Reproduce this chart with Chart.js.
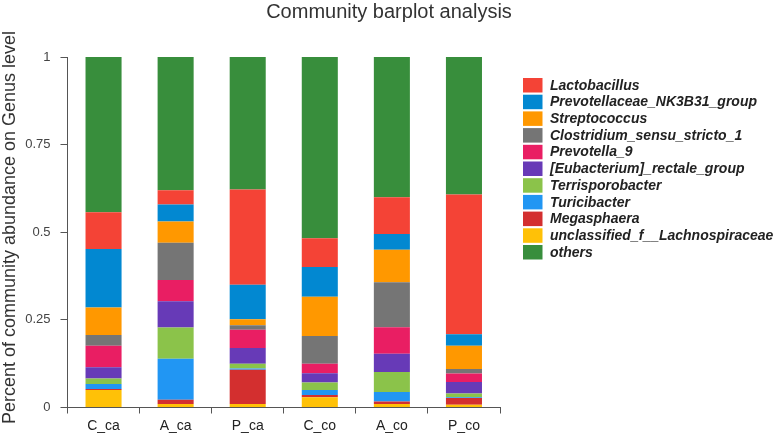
<!DOCTYPE html>
<html>
<head>
<meta charset="utf-8">
<script src="https://cdn.jsdelivr.net/npm/chart.js@4"></script>
<style>
html,body{margin:0;padding:0;background:#fff;}
#wrap{width:778px;height:437px;position:relative;}
</style>
</head>
<body>
<div id="wrap"><canvas id="c" width="778" height="437"></canvas></div>
<script>
// ---- data ----
const categories = ["C_ca", "A_ca", "P_ca", "C_co", "A_co", "P_co"];
const yTicks = [0, 0.25, 0.5, 0.75, 1];
const yTickLabels = ["0", "0.25", "0.5", "0.75", "1"];

const unclassified_f__Lachnospiraceae = [0.050, 0.010, 0.010, 0.029, 0.010, 0.008];
const Megasphaera                    = [0.003, 0.012, 0.098, 0.007, 0.007, 0.019];
const Turicibacter                   = [0.014, 0.117, 0.003, 0.014, 0.027, 0.002];
const Terrisporobacter               = [0.016, 0.089, 0.014, 0.021, 0.057, 0.011];
const Eubacterium_rectale_group      = [0.032, 0.075, 0.045, 0.027, 0.052, 0.033];
const Prevotella_9                   = [0.061, 0.061, 0.052, 0.027, 0.076, 0.024];
const Clostridium_sensu_stricto_1    = [0.031, 0.106, 0.013, 0.079, 0.128, 0.013];
const Streptococcus                  = [0.078, 0.061, 0.017, 0.112, 0.093, 0.066];
const Prevotellaceae_NK3B31_group    = [0.167, 0.048, 0.098, 0.085, 0.045, 0.033];
const Lactobacillus                  = [0.105, 0.041, 0.272, 0.082, 0.105, 0.399];
const others                         = [0.443, 0.380, 0.378, 0.517, 0.400, 0.392];

// stacking order (bottom to top)
const seriesNames = [
  "unclassified_f__Lachnospiraceae", "Megasphaera", "Turicibacter", "Terrisporobacter",
  "[Eubacterium]_rectale_group", "Prevotella_9", "Clostridium_sensu_stricto_1",
  "Streptococcus", "Prevotellaceae_NK3B31_group", "Lactobacillus", "others"
];
const seriesValues = [
  unclassified_f__Lachnospiraceae, Megasphaera, Turicibacter, Terrisporobacter,
  Eubacterium_rectale_group, Prevotella_9, Clostridium_sensu_stricto_1,
  Streptococcus, Prevotellaceae_NK3B31_group, Lactobacillus, others
];
const seriesColors = [
  "#FFC107", "#D32F2F", "#2196F3", "#8BC34A", "#673AB7", "#E91E63",
  "#757575", "#FF9800", "#0288D1", "#F44336", "#388E3C"
];
// legend order (top to bottom)
const legendOrder = [
  "Lactobacillus", "Prevotellaceae_NK3B31_group", "Streptococcus",
  "Clostridium_sensu_stricto_1", "Prevotella_9", "[Eubacterium]_rectale_group",
  "Terrisporobacter", "Turicibacter", "Megasphaera",
  "unclassified_f__Lachnospiraceae", "others"
];
const titleText = "Community barplot analysis";
const yTitleText = "Percent of community abundance on Genus level";

const datasets = seriesNames.map((n, i) => ({
  label: n,
  data: seriesValues[i],
  backgroundColor: seriesColors[i],
  borderWidth: 0,
  barPercentage: 0.5,
  categoryPercentage: 1.0
}));

const overlay = {
  id: "overlay",
  afterDraw(chart) {
    const ctx = chart.ctx;
    ctx.save();
    // title
    ctx.fillStyle = "#333";
    ctx.font = "20px 'Liberation Sans', Arial, sans-serif";
    ctx.textAlign = "center";
    ctx.textBaseline = "alphabetic";
    ctx.fillText(titleText, 389, 18);
    // y axis title
    ctx.save();
    ctx.translate(10, 227.5);
    ctx.rotate(-Math.PI / 2);
    ctx.font = "18px 'Liberation Sans', Arial, sans-serif";
    ctx.textBaseline = "middle";
    ctx.fillText(yTitleText, 0, 0);
    ctx.restore();
    // legend
    const x0 = 523, y0 = 78, pitch = 16.7, bw = 19.5, bh = 14.5;
    ctx.textAlign = "left";
    ctx.textBaseline = "middle";
    ctx.font = "italic bold 14px 'Liberation Sans', Arial, sans-serif";
    legendOrder.forEach((name, k) => {
      const ds = chart.data.datasets.find(d => d.label === name);
      const y = y0 + k * pitch;
      ctx.fillStyle = ds.backgroundColor;
      ctx.fillRect(x0, y, bw, bh);
      ctx.fillStyle = "#222";
      ctx.fillText(name, 550, y + bh / 2 + 0.5);
    });
    ctx.restore();
  }
};

new Chart(document.getElementById("c"), {
  type: "bar",
  data: { labels: categories, datasets },
  plugins: [overlay],
  options: {
    responsive: false,
    animation: false,
    layout: { padding: { left: 0, right: 278, top: 57, bottom: 0 } },
    plugins: { legend: { display: false }, title: { display: false }, tooltip: { enabled: false } },
    scales: {
      x: {
        stacked: true,
        afterFit(s) { s.height = 29.5; },
        grid: { drawOnChartArea: false, drawTicks: true, tickLength: 6, color: "#555", offset: true },
        border: { display: true, color: "#555", width: 1 },
        ticks: { color: "#222", padding: 4, font: { family: "'Liberation Sans', Arial, sans-serif", size: 14 } }
      },
      y: {
        stacked: true,
        min: 0, max: 1,
        afterFit(s) { s.width = 67.5; },
        afterBuildTicks(s) { s.ticks = yTicks.map(v => ({ value: v })); },
        grid: { drawOnChartArea: false, drawTicks: true, tickLength: 7, color: "#555" },
        border: { display: true, color: "#555", width: 1 },
        ticks: {
          color: "#444", padding: 10,
          font: { family: "'Liberation Sans', Arial, sans-serif", size: 13 },
          callback: (v) => yTickLabels[yTicks.indexOf(v)]
        }
      }
    }
  }
});
</script>
</body>
</html>
